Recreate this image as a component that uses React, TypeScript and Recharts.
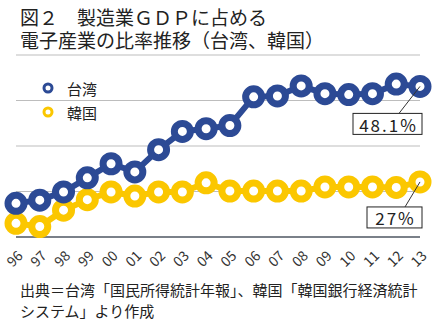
import { LineChart, Line, XAxis, YAxis, CartesianGrid, Legend, LabelList } from 'recharts';

const years = ['96', '97', '98', '99', '00', '01', '02', '03', '04', '05', '06', '07', '08', '09', '10', '11', '12', '13'];
const taiwan = [22.4, 23.1, 24.9, 28.0, 31.1, 29.3, 34.2, 38.2, 38.8, 39.5, 45.8, 46.0, 48.2, 46.5, 46.3, 46.5, 48.6, 48.1];
const korea = [18.0, 17.3, 20.9, 23.2, 24.9, 24.0, 24.9, 24.9, 26.9, 25.1, 25.1, 25.1, 25.1, 26.0, 26.0, 26.0, 25.9, 27.1];
const yTicks = [15, 25, 35, 45, 55];
const lastTaiwanLabel = '48.1%';
const lastKoreaLabel = '27%';
const titleLines = ['図２　製造業ＧＤＰに占める', '電子産業の比率推移（台湾、韓国）'];
const noteLines = ['出典＝台湾「国民所得統計年報」、韓国「韓国銀行経済統計', 'システム」より作成'];

const BLUE = '#2c4a95';
const YELLOW = '#fbc700';
const FONT = '"Noto Sans CJK JP", "Noto Sans", sans-serif';

const data = years.map((y, i) => ({ year: y, taiwan: taiwan[i], korea: korea[i] }));

const YearTick = ({ x, y, payload }: any) => (
  <text
    x={x - 2}
    y={y + 13}
    transform={`rotate(-45 ${x - 2} ${y + 13})`}
    textAnchor="middle"
    dominantBaseline="central"
    fontSize={14}
    fill="#333"
    fontFamily={FONT}
  >
    {payload.value}
  </text>
);

// callout box on the last point only
const makeCallout = (text: string, boxW: number, boxDx: number, boxDy: number, lineDx: number) => (props: any) => {
  const { x, y, index } = props;
  if (index !== years.length - 1) return null;
  const bx = x + boxDx;
  const by = y + boxDy;
  return (
    <g>
      <line x1={x} y1={y} x2={x + lineDx} y2={by} stroke="#333" strokeWidth={1} />
      <rect x={bx} y={by} width={boxW} height={21} fill="#fff" stroke="#222" strokeWidth={1} />
      <text x={bx + boxW / 2 + 1} y={by + 11} textAnchor="middle" dominantBaseline="central" fontSize={17} letterSpacing={2} fill="#222" fontFamily={FONT}>
        {text}
      </text>
    </g>
  );
};

const LegendBox = () => (
  <div style={{ fontFamily: FONT, fontSize: 15, color: '#222' }}>
    {[{ name: '台湾', color: BLUE }, { name: '韓国', color: YELLOW }].map((it) => (
      <div key={it.name} style={{ display: 'flex', alignItems: 'center', height: 24 }}>
        <svg width={14} height={14} style={{ marginRight: 12 }}>
          <circle cx={7} cy={7} r={4} fill="#fff" stroke={it.color} strokeWidth={3} />
        </svg>
        <span>{it.name}</span>
      </div>
    ))}
  </div>
);

export default function App() {
  return (
    <div style={{ position: 'absolute', left: 0, top: 0, width: 441, height: 325, background: '#fff', fontFamily: FONT }}>
      <svg width={441} height={325} style={{ position: 'absolute', left: 0, top: 0 }}>
        {titleLines.map((t, i) => (
          <text key={t} x={20} y={16 + i * 23} dominantBaseline="central" fontSize={19} fill="#222" fontFamily={FONT}>
            {t}
          </text>
        ))}
        {noteLines.map((t, i) => (
          <text key={t} x={20} y={289 + i * 21} dominantBaseline="central" fontSize={15} fill="#222" fontFamily={FONT}>
            {t}
          </text>
        ))}
      </svg>
      <LineChart width={441} height={325} data={data} margin={{ top: 55, right: 21, left: 16, bottom: 58 }} style={{ position: 'absolute', left: 0, top: 0 }}>
        <CartesianGrid vertical={false} stroke="#bdbdbd" strokeWidth={1} />
        <YAxis hide domain={[15, 55]} ticks={yTicks} />
        <XAxis
          dataKey="year"
          interval={0}
          tickLine={false}
          axisLine={{ stroke: '#59606d', strokeWidth: 1.5 }}
          tick={<YearTick />}
          padding={{ left: 0, right: 0 }}
        />
        <Legend verticalAlign="middle" align="center" layout="horizontal" content={<LegendBox />} wrapperStyle={{ left: 41, top: 76, width: 80 }} />
        <Line
          dataKey="korea"
          name="韓国"
          stroke={YELLOW}
          strokeWidth={6}
          dot={{ r: 8, strokeWidth: 7, fill: '#fff', stroke: YELLOW }}
          isAnimationActive={false}
        >
          <LabelList dataKey="korea" content={makeCallout(lastKoreaLabel, 55, -53, 25, -15)} />
        </Line>
        <Line
          dataKey="taiwan"
          name="台湾"
          stroke={BLUE}
          strokeWidth={6}
          dot={{ r: 8, strokeWidth: 7, fill: '#fff', stroke: BLUE }}
          isAnimationActive={false}
        >
          <LabelList dataKey="taiwan" content={makeCallout(lastTaiwanLabel, 69, -67, 27, -21)} />
        </Line>
      </LineChart>
    </div>
  );
}
